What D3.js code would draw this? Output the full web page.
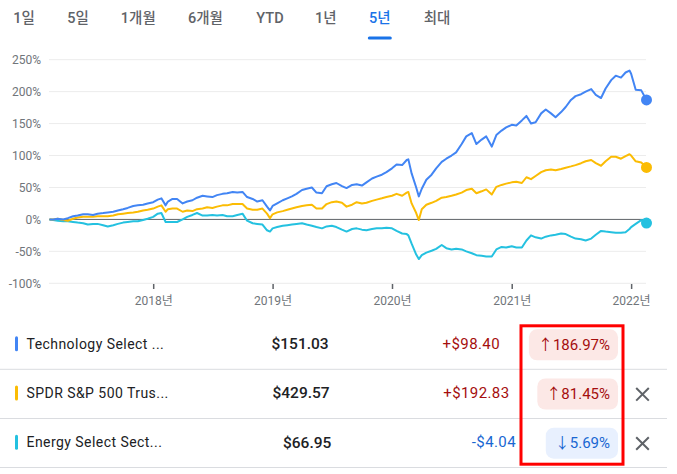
<!DOCTYPE html>
<html><head><meta charset="utf-8">
<script src="https://cdn.jsdelivr.net/npm/d3@7"></script>
<style>
html,body{margin:0;padding:0;background:#fff;}
svg{display:block;}
</style></head><body>
<svg id="c" width="677" height="474"></svg>
<script>
// ---------- DATA ----------
const tabs = ["1일","5일","1개월","6개월","YTD","1년","5년","최대"];
const activeTab = "5년";
const yTicks = [-100,-50,0,50,100,150,200,250];
const xTickYears = ["2018","2019","2020","2021","2022"];
const dates = [
"2017-02-18","2017-03-01","2017-03-15","2017-04-01","2017-04-15","2017-05-01","2017-05-15","2017-06-01","2017-06-15","2017-07-01","2017-07-15","2017-08-01","2017-08-15","2017-09-01","2017-09-15","2017-10-01","2017-10-15","2017-11-01","2017-11-15","2017-12-01","2017-12-15",
"2018-01-01","2018-01-15","2018-01-26","2018-02-08","2018-02-15","2018-03-01","2018-03-15","2018-04-01","2018-04-15","2018-05-01","2018-05-15","2018-06-01","2018-06-15","2018-07-01","2018-07-15","2018-08-01","2018-08-15","2018-09-01","2018-09-15","2018-10-01","2018-10-15","2018-11-01","2018-11-15","2018-12-01","2018-12-15","2018-12-24",
"2019-01-01","2019-01-15","2019-02-01","2019-02-15","2019-03-01","2019-03-15","2019-04-01","2019-04-15","2019-05-01","2019-05-15","2019-06-01","2019-06-15","2019-07-01","2019-07-15","2019-08-01","2019-08-15","2019-09-01","2019-09-15","2019-10-01","2019-10-15","2019-11-01","2019-11-15","2019-12-01","2019-12-15",
"2020-01-01","2020-01-15","2020-02-01","2020-02-15","2020-02-20","2020-03-01","2020-03-15","2020-03-23","2020-04-01","2020-04-15","2020-05-01","2020-05-15","2020-06-01","2020-06-15","2020-07-01","2020-07-15","2020-08-01","2020-08-15","2020-09-01","2020-09-15","2020-10-01","2020-10-15","2020-11-01","2020-11-15","2020-12-01","2020-12-15",
"2021-01-01","2021-01-15","2021-02-01","2021-02-15","2021-03-01","2021-03-15","2021-04-01","2021-04-15","2021-05-01","2021-05-15","2021-06-01","2021-06-15","2021-07-01","2021-07-15","2021-08-01","2021-08-15","2021-09-01","2021-09-15","2021-10-01","2021-10-15","2021-11-01","2021-11-15","2021-12-01","2021-12-15",
"2021-12-27","2022-01-01","2022-01-15","2022-02-01","2022-02-17"
];
const tech = [
0,0,1,0,2,5,6,8,8,7,9,10,11,12,14,16,18,21,22,23,25,
27,31,33,22,28,32,32,25,28,30,34,37,36,35,38,40,41,43,42,43,35,32,28,30,20,14,
21,25,30,33,36,40,46,48,50,42,41,52,55,57,52,49,54,55,53,58,64,67,70,74,
80,86,85,93,94,72,50,36,48,62,70,80,90,95,100,105,118,130,135,118,125,130,114,132,139,144,
148,147,155,162,150,152,166,172,166,160,168,176,187,193,196,200,204,195,190,205,218,225,222,230,
233,228,203,202,186.97
];
const spy = [
0,0,1,-1,-2,1,3,4,4,4,5,5,5,6,8,9,10,11,12,14,15,
17,20,22,12,16,17,17,12,14,13,16,17,19,18,20,22,22,24,24,24,17,15,15,17,9,2,
8,11,13,15,17,19,21,22,23,17,17,24,27,28,26,20,23,27,25,26,29,31,33,35,
37,40,37,42,43,25,10,-1,16,23,26,29,34,35,37,39,42,46,48,41,44,47,39,51,54,56,
58,59,57,66,63,68,74,77,78,77,79,81,83,85,88,91,93,88,84,91,98,98,95,99,
102,100,91,89,81.45
];
const energy = [
0,-1,-2,-3,-3,-4,-5,-6,-8,-7,-7,-9,-11,-9,-7,-5,-4,-3,-3,-1,1,
4,9,10,-4,-4,-4,-4,0,4,7,10,6,6,7,6,7,5,5,7,9,-2,-6,-7,-8,-17,-19,
-14,-12,-10,-9,-8,-7,-6,-8,-10,-12,-14,-11,-10,-12,-16,-19,-15,-14,-16,-17,-15,-14,-14,-13,
-14,-18,-22,-23,-25,-38,-55,-62,-56,-52,-49,-46,-40,-45,-47,-46,-47,-50,-53,-56,-57,-58,-58,-47,-43,-44,
-42,-44,-44,-33,-25,-28,-30,-27,-25,-24,-22,-23,-27,-30,-31,-33,-30,-24,-18,-19,-20,-21,-21,-20,
-15,-12,-7,-1,-5.69
];
const names = ["Technology Select ...","SPDR S&P 500 Trus...","Energy Select Sect..."];
const prices = ["$151.03","$429.57","$66.95"];
const changes = ["+$98.40","+$192.83","-$4.04"];
const pcts = [186.97, 81.45, -5.69];
const seriesColors = ["#4285f4","#fbbc04","#24c1e0"];

// ---------- LAYOUT ----------
const FONT = "Roboto, 'Noto Sans CJK KR', sans-serif";
const svg = d3.select("#c");
const parse = d3.utcParse("%Y-%m-%d");
const x = d3.scaleUtc().domain([parse(dates[0]), parse(dates[dates.length-1])]).range([49.5, 646.5]);
const y = d3.scaleLinear().domain([-100, 250]).range([283.3, 59.7]);

// tabs
const tabCenters = [24, 78, 138.3, 205.5, 270, 325.8, 379.8, 437];
const tg = svg.append("g");
tabs.forEach((t,i)=>{
  tg.append("text").attr("x",tabCenters[i]).attr("y",18).attr("dy","0.35em")
    .attr("text-anchor","middle").attr("font-family",FONT).attr("font-size",14.5)
    .attr("font-weight",500)
    .attr("fill", t===activeTab ? "#1a73e8" : "#5f6368").text(t);
});
tg.append("rect").attr("x",tabCenters[tabs.indexOf(activeTab)]-12).attr("y",36.5)
  .attr("width",24).attr("height",3).attr("rx",1.5).attr("fill","#1a73e8");

// grid + y axis
const yAxis = d3.axisLeft(y).tickValues(yTicks).tickSize(0).tickPadding(0).tickFormat(d=>d+"%");
const ya = svg.append("g").attr("transform","translate(41,0)").call(yAxis);
ya.select(".domain").remove();
ya.selectAll("text").attr("font-family",FONT).attr("font-size",12).attr("fill","#70757a");
svg.append("g").selectAll("line").data(yTicks.filter(d=>d!==0)).join("line")
  .attr("x1",49).attr("x2",646).attr("y1",d=>y(d)).attr("y2",d=>y(d))
  .attr("stroke","#ececec").attr("stroke-width",1);

// x axis
const xTickDates = xTickYears.map(yr=>parse(yr+"-01-01"));
const xAxis = d3.axisBottom(x).tickValues(xTickDates).tickSize(5).tickPadding(7)
  .tickFormat(d=>d3.utcFormat("%Y")(d)+"년");
const xa = svg.append("g").attr("transform","translate(0,284)").call(xAxis);
xa.select(".domain").remove();
xa.selectAll("line").attr("stroke","#5f6368").attr("stroke-width",1.5);
xa.selectAll("text").attr("font-family",FONT).attr("font-size",12).attr("fill","#70757a");

// zero line
svg.append("line").attr("x1",49).attr("x2",646).attr("y1",y(0)).attr("y2",y(0))
  .attr("stroke","#5f6368").attr("stroke-width",1);

// lines
const allSeries = [energy, spy, tech];
const allColors = [seriesColors[2], seriesColors[1], seriesColors[0]];
const line = d3.line().x((d,i)=>x(parse(dates[i]))).y(d=>y(d));
allSeries.forEach((s,k)=>{
  svg.append("path").datum(s).attr("d",line).attr("fill","none")
    .attr("stroke",allColors[k]).attr("stroke-width",2).attr("stroke-linejoin","round");
});
allSeries.forEach((s,k)=>{
  svg.append("circle").attr("cx",x(parse(dates[dates.length-1]))).attr("cy",y(s[s.length-1]))
    .attr("r",5.5).attr("fill",allColors[k]);
});

// ---------- TABLE ----------
const rowY = [343.8, 393, 442.2];
const sepY = [369.3, 418.5, 467.5];
const priceX = [271.5, 272.5, 283];
const changeRight = [500, 509.5, 516];
const tb = svg.append("g");
sepY.forEach(s=>tb.append("line").attr("x1",0).attr("x2",667).attr("y1",s).attr("y2",s)
  .attr("stroke","#dadce0").attr("stroke-width",1));
names.forEach((n,i)=>{
  const cy = rowY[i];
  tb.append("rect").attr("x",15).attr("y",cy-7.5).attr("width",3).attr("height",15)
    .attr("rx",1.5).attr("fill",seriesColors[i]);
  tb.append("text").attr("x",26.5).attr("y",cy).attr("dy","0.35em").attr("font-family",FONT)
    .attr("font-size",14).attr("font-weight",400).attr("letter-spacing",0.45)
    .attr("fill","#202124").text(n);
  tb.append("text").attr("x",priceX[i]).attr("y",cy).attr("dy","0.35em").attr("font-family",FONT)
    .attr("font-size",15.5).attr("font-weight",500).attr("fill","#202124").text(prices[i]);
  const pos = pcts[i] >= 0;
  tb.append("text").attr("x",changeRight[i]).attr("y",cy).attr("dy","0.35em")
    .attr("text-anchor","end").attr("font-family",FONT).attr("font-size",15)
    .attr("letter-spacing",0.4)
    .attr("fill", pos ? "#a50e0e" : "#1967d2").text(changes[i]);
  const pillG = tb.append("g");
  const pill = pillG.append("rect");
  const pt = pillG.append("text").attr("x",610).attr("y",cy+1).attr("dy","0.35em")
    .attr("text-anchor","end").attr("font-family",FONT).attr("font-size",15)
    .attr("fill", pos ? "#a50e0e" : "#1967d2")
    .text((pos ? "↑" : "↓") + Math.abs(pcts[i]).toFixed(2) + "%");
  const w = pt.node().getComputedTextLength();
  pill.attr("x",610-w-9).attr("y",cy-14.5).attr("width",w+17).attr("height",31).attr("rx",8)
    .attr("fill", pos ? "#fce8e6" : "#e8f0fe");
  if (i > 0) {
    const cx = 642.5, c = cy + 1.3, h = 6.3;
    tb.append("path").attr("d",`M${cx-h},${c-h}L${cx+h},${c+h}M${cx+h},${c-h}L${cx-h},${c+h}`)
      .attr("stroke","#5f6368").attr("stroke-width",2);
  }
});
// highlight box
tb.append("rect").attr("x",521).attr("y",325.8).attr("width",102).attr("height",138.4)
  .attr("fill","none").attr("stroke","#ff0000").attr("stroke-width",3);
</script>
</body></html>
